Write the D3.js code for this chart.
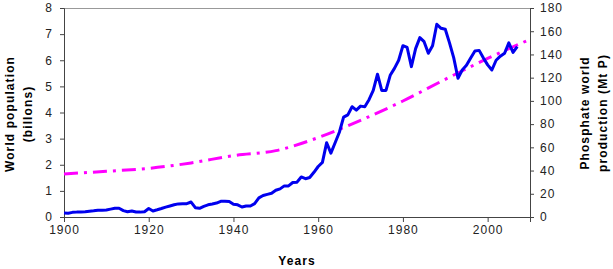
<!DOCTYPE html>
<html>
<head>
<meta charset="utf-8">
<script src="https://cdn.jsdelivr.net/npm/d3@7"></script>
<style>
body{margin:0;background:#fff;}
text{font-family:"Liberation Sans",Arial,sans-serif;}
</style>
</head>
<body>
<div id="chart"></div>
<script>
// Producción de fosfato (Mt P), un valor por año desde 1900
var anios=d3.range(1900,2008)
var fosfato=[3.5,3.3,4.0,4.2,4.3,4.5,4.9,5.3,5.8,5.8,
	6.0,6.8,7.5,7.5,5.5,4.5,5.2,4.3,4.2,4.5,
	7.3,5.2,6.2,7.3,8.5,9.5,10.5,11.3,11.5,11.5,
	12.9,8.0,7.5,9.2,10.5,11.2,12.0,13.5,13.5,13.3,
	11.0,10.5,8.6,9.5,9.5,11.5,16.5,18.5,19.5,20.4,
	23.0,24.2,26.8,26.8,29.7,30.0,34.5,33.0,34.0,38.5,
	43.5,47,64,55,64,73,86,88,95,92,
	95.5,95,101,109,123,109,109,122,128,135,
	147.5,146,129.5,145,154.5,151,141,147.5,166,162.5,
	161.7,150,137,119.5,126.6,130.6,137,143,143.5,137,
	131,126.6,135,138.5,141,150,141.8,146.7]
// Población mundial (miles de millones)
var aniosPob=[1900,1910,1920,1930,1940,1950,1960,1970,1980,1990,2000,2010]
var poblacion=[1.65,1.75,1.86,2.07,2.35,2.54,3.04,3.7,4.44,5.27,6.07,6.8]
var ticksX=[1900,1920,1940,1960,1980,2000]

var margin={top:8,bottom:52,left:64,right:83}
var ancho=613-margin.left-margin.right
var alto=269-margin.top-margin.bottom

var svg1=d3.select("#chart").append("svg")
	.attr("width",613).attr("height",269)
var svg=svg1.append("g")
	.attr("transform","translate("+margin.left+","+margin.top+")")

var escalaX=d3.scaleLinear().domain([1900,2010]).range([0,ancho])
var escalaY=d3.scaleLinear().domain([0,8]).range([alto,0])
var escalaY2=d3.scaleLinear().domain([0,180]).range([alto,0])

// marco superior
svg.append("line").attr("x1",0).attr("x2",ancho).attr("y1",0.5).attr("y2",0.5)
	.style("stroke","#999").style("stroke-width",1)

var ejeX=svg.append("g").attr("transform","translate(0,"+alto+")")
	.call(d3.axisBottom(escalaX).tickValues(ticksX).tickFormat(d3.format("d")).tickSizeOuter(0).tickSize(5).tickPadding(3))
var ejeY=svg.append("g")
	.call(d3.axisLeft(escalaY).ticks(8).tickSizeOuter(0).tickSize(4).tickPadding(7))
var ejeY2=svg.append("g").attr("transform","translate("+ancho+",0)")
	.call(d3.axisRight(escalaY2).ticks(9).tickSizeOuter(0).tickSize(4).tickPadding(6))
svg.selectAll(".tick text").style("font-size","12px").style("letter-spacing","1px").style("fill","#222")
svg.selectAll(".domain,.tick line").style("stroke","#444")

var lineaPob=d3.line().x(function(d,i){return escalaX(aniosPob[i])}).y(d=>escalaY(d)).curve(d3.curveMonotoneX)
svg.append("path").datum(poblacion).attr("d",lineaPob)
	.style("fill","none").style("stroke","#ff00ff").style("stroke-width",3)
	.style("stroke-dasharray","14,6,3,6")

var lineaFos=d3.line().x(function(d,i){return escalaX(anios[i])}).y(d=>escalaY2(d))
svg.append("path").datum(fosfato).attr("d",lineaFos)
	.style("fill","none").style("stroke","#0000ee").style("stroke-width",3)
	.style("stroke-linejoin","round")

// títulos
svg1.append("text").attr("x",297).attr("y",265).attr("text-anchor","middle")
	.style("font-size","12px").style("font-weight","bold").style("letter-spacing","1.1px").text("Years")
var tl=svg1.append("text").attr("transform","translate(14,114) rotate(-90)").attr("text-anchor","middle")
	.style("font-size","12px").style("font-weight","bold").style("letter-spacing","1.1px")
tl.append("tspan").attr("x",0).attr("dy",0).text("World population")
tl.append("tspan").attr("x",0).attr("dy",18).text("(billons)")
var tr=svg1.append("text").attr("transform","translate(589,113) rotate(-90)").attr("text-anchor","middle")
	.style("font-size","12px").style("font-weight","bold").style("letter-spacing","1.1px")
tr.append("tspan").attr("x",0).attr("dy",0).text("Phosphate world")
tr.append("tspan").attr("x",0).attr("dy",18).text("production (Mt P)")
</script>
</body>
</html>
